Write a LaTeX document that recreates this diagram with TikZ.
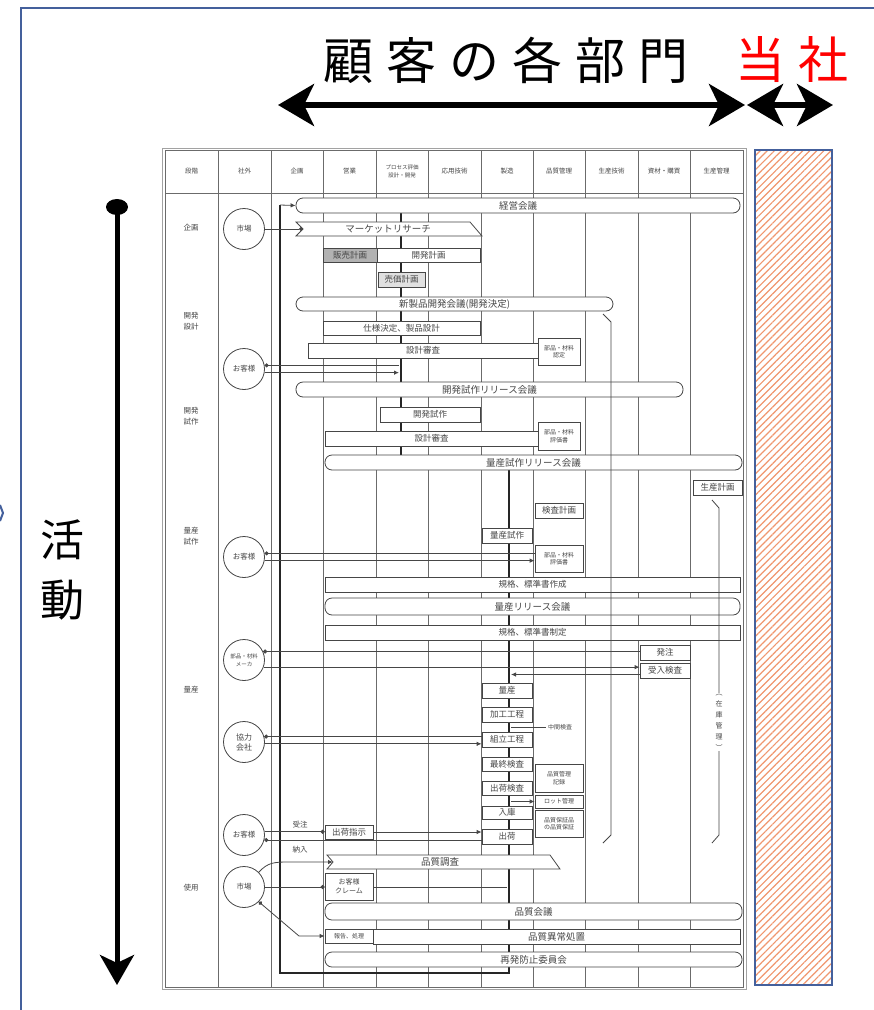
\documentclass[tikz,border=0pt]{standalone}
\usepackage{fontspec}
\newfontfamily\jp{Noto Sans CJK JP}
\usetikzlibrary{arrows.meta,patterns.meta,calc}
\pgfdeclarelayer{back}
\pgfdeclarelayer{bg}
\pgfsetlayers{back,bg,main}
\definecolor{frameblue}{RGB}{68,96,156}
\definecolor{hatchc}{RGB}{240,150,110}
\definecolor{ink}{RGB}{70,70,70}
\newcommand\setfs[2]{\fontsize{#1}{#2}\selectfont}
\newcommand\mybox[7][]{\node[box,#1,minimum width={(#5-#3)*1pt},minimum height={(#6-#4)*1pt}] (#2) at ({(#3+#5)/2},{(#4+#6)/2}) {#7};}
\begin{document}
\begin{tikzpicture}[x=1pt,y=-1pt,
  box/.style={draw=ink, line width=0.8pt, fill=white, inner sep=0pt, align=center, text=ink, font=\jp\setfs{8.5}{9.5}},
  bar/.style={box, rounded corners=7pt, font=\jp\setfs{9.5}{10}},
  sm/.style={font=\jp\setfs{6}{7.5}},
  circ/.style={circle, draw=ink, line width=0.8pt, fill=white, minimum size=41pt, inner sep=0pt, align=center, text=ink, font=\jp\setfs{7.5}{9}},
  hdr/.style={text=ink, align=center, font=\jp\setfs{6.5}{8}},
  rowl/.style={text=ink, align=center, font=\jp\setfs{7.5}{11}},
  lbl/.style={text=ink, inner sep=1pt, font=\jp\setfs{7.5}{9}},
  colline/.style={draw=ink!80, line width=0.7pt},
  conn/.style={draw=ink, line width=0.8pt},
  thk/.style={draw=black!85, line width=2.4pt},
  ar/.style={-{Latex[length=5pt,width=4.5pt]}},
  dotst/.style={{Circle[length=4pt]}-},
  ardot/.style={-{Circle[length=4pt]}},
  dotar/.style={{Circle[length=4pt]}-{Latex[length=5pt,width=4.5pt]}},
  bigar/.style={line width=6pt, {Stealth[length=36pt,width=42pt,inset=10pt]}-{Stealth[length=36pt,width=42pt,inset=10pt]}}
]
\begin{pgfonlayer}{back}
\fill[white] (0,0) rectangle (874,1010);
\end{pgfonlayer}
\useasboundingbox (0,0) rectangle (874,1010);

% outer blue frame
\draw[frameblue, line width=2pt] (21,1012) -- (21,8) -- (876,8);
\draw[frameblue, line width=2pt] (0,505) -- (3,513) -- (0,521);

% title
\node[font=\jp\setfs{50}{50}] (title) at (506,60) {顧\hspace{13pt}客\hspace{13pt}の\hspace{13pt}各\hspace{13pt}部\hspace{13pt}門};
\node[font=\jp\setfs{50}{50}, text=red] (tousha) at (792,60) {当\hspace{13pt}社};
\coordinate (a1L) at (278,105);
\coordinate (a1R) at (745,105);
\coordinate (a2L) at (747,105);
\coordinate (a2R) at (833,105);
\draw[bigar] (a1L) -- (a1R);
\draw[bigar] (a2L) -- (a2R);

% hatched column
\draw[draw=frameblue, line width=1.3pt, pattern={Lines[angle=45,distance=5pt,line width=1.2pt]}, pattern color=hatchc] (755,150) rectangle (832,985);

% left activity arrow
\coordinate (la1) at (117,207);
\coordinate (la2) at (117,985);
\fill (la1) ellipse [x radius=11, y radius=8];
\draw[line width=5pt, -{Stealth[length=30pt,width=34pt,inset=8pt]}] (la1) -- (la2);
\node[font=\jp\setfs{44}{60}, align=center] (katsudo) at (62,570) {活\\動};

% ---------- chart grid ----------
\coordinate (tl) at (280,205);
\coordinate (bl) at (280,973);
\coordinate (br) at (509,973);
\coordinate (mt) at (509,462);
\coordinate (pt) at (401,210);
\coordinate (pb) at (401,458);
\begin{pgfonlayer}{bg}
\draw[colline] (165,150) rectangle (743,987);
\draw[draw=ink!50, line width=0.6pt] (162,148) rectangle (746,989);
\draw[colline] (165,193) -- (743,193);
\foreach \x in {218,271,323,376,428,481,533,585,638,690} \draw[colline] (\x,150) -- (\x,987);
\draw[thk] (tl) -- (bl) -- (br) -- (mt);
\draw[thk] (pt) -- (pb);
\end{pgfonlayer}
\coordinate (p1) at (399,200);
\coordinate (p2L) at (507,500);
\coordinate (p2R) at (511,500);

% header
\foreach \x/\t [count=\i] in {191.5/段階, 244.5/社外, 297/企画, 349.5/営業, 454.5/応用技術, 507/製造, 559/品質管理, 611.5/生産技術, 664/資材・購買, 716.5/生産管理}
  \node[hdr] (h\i) at (\x,171) {\t};
\node[hdr, font=\jp\setfs{5.5}{8}] (h11) at (402,171) {プロセス評価\\設計・開発};

% row labels
\node[rowl] (r1) at (191,228) {企画};
\node[rowl] (r2) at (191,321) {開発\\設計};
\node[rowl] (r3) at (191,416) {開発\\試作};
\node[rowl] (r4) at (191,536) {量産\\試作};
\node[rowl] (r5) at (191,690) {量産};
\node[rowl] (r6) at (191,888) {使用};

% external circles
\node[circ] (m1) at (244,229) {市場};
\node[circ] (o1) at (244,369) {お客様};
\node[circ] (o2) at (244,557) {お客様};
\node[circ, font=\jp\setfs{5.5}{8}] (mk) at (244,660) {部品・材料\\メーカ};
\node[circ, font=\jp\setfs{8}{10}] (kk) at (244,742) {協力\\会社};
\node[circ] (o3) at (244,835) {お客様};
\node[circ] (m2) at (244,887) {市場};

% boxes
\mybox[bar]{k1}{296}{198}{740}{213}{経営会議}
\draw[conn, fill=white] (296,222) -- (470,222) -- (482,236) -- (296,236) -- (303,229) -- cycle;
\coordinate (mrL) at (303,229);
\node[text=ink, font=\jp\setfs{9.5}{10}] (mr) at (388,229) {マーケットリサーチ};
\mybox[fill=black!30]{hanbai}{323}{248}{377}{262}{販売計画}
\mybox{kaihatsu}{377}{248}{480}{262}{開発計画}
\mybox[fill=black!12]{baika}{378}{272}{425}{287}{売価計画}
\mybox[bar]{shin}{296}{297}{613}{311}{新製品開発会議(開発決定)}
\mybox{shiyo}{323}{321}{480}{335}{仕様決定、製品設計}
\mybox{sekkei1}{308}{343}{538}{358}{設計審査}
\mybox[sm]{nintei}{538}{338}{580}{365}{部品・材料\\認定}
\mybox[bar]{kaiR}{296}{382}{683}{397}{開発試作リリース会議}
\mybox{shisaku}{380}{407}{480}{422}{開発試作}
\mybox{sekkei2}{325}{431}{538}{446}{設計審査}
\mybox[sm]{hyouka1}{538}{422}{580}{450}{部品・材料\\評価書}
\mybox[bar]{ryoR}{325}{455}{742}{470}{量産試作リリース会議}
\mybox{seikei}{693}{480}{742}{495}{生産計画}
\mybox{kensakei}{535}{503}{583}{518}{検査計画}
\mybox{ryoshisaku}{482}{528}{532}{543}{量産試作}
\mybox[sm]{hyouka2}{535}{545}{583}{572}{部品・材料\\評価書}
\mybox{kikaku1}{325}{577}{740}{592}{規格、標準書作成}
\mybox[bar]{ryoRR}{325}{598}{740}{615}{量産リリース会議}
\mybox{kikaku2}{325}{625}{740}{640}{規格、標準書制定}
\mybox{hatchu}{640}{645}{690}{660}{発注}
\mybox{ukeire}{640}{663}{690}{678}{受入検査}
\mybox{ryosan}{482}{683}{532}{698}{量産}
\mybox{kako}{482}{707}{532}{722}{加工工程}
\mybox{kumi}{482}{732}{532}{747}{組立工程}
\mybox{saishu}{482}{757}{532}{771}{最終検査}
\mybox{shukkak}{482}{781}{532}{795}{出荷検査}
\mybox[sm]{qrec}{535}{764}{583}{792}{品質管理\\記録}
\mybox[sm]{lot}{535}{795}{583}{808}{ロット管理}
\mybox{nyuko}{482}{806}{532}{819}{入庫}
\mybox[sm]{qho}{535}{810}{583}{837}{品質保証品\\の品質保証}
\mybox{shukka}{482}{829}{532}{844}{出荷}
\mybox{shiji}{325}{825}{373}{839}{出荷指示}
\draw[conn, fill=white] (327,855) -- (550,855) -- (560,869) -- (327,869) -- (333,862) -- cycle;
\coordinate (chosaL) at (333,862);
\node[text=ink, font=\jp\setfs{9.5}{10}] (chosa) at (440,862) {品質調査};
\mybox[font=\jp\setfs{7}{9}]{claim}{325}{873}{373}{900}{お客様\\クレーム}
\mybox[bar]{qkai}{325}{903}{742}{920}{品質会議}
\mybox[font=\jp\setfs{6}{7}]{hokoku}{325}{929}{373}{943}{報告、処理}
\mybox[font=\jp\setfs{9.5}{10}]{ijo}{373}{929}{740}{944}{品質異常処置}
\mybox[bar]{saihatsu}{325}{952}{742}{967}{再発防止委員会}

% brackets
\draw[conn] (603,314) -- (611,322) -- (611,835) -- (603,843);
\draw[conn] (712,500) -- (719,508) -- (719,835) -- (712,843);
\node[fill=white, inner sep=1pt, text=ink, align=center, font=\jp\setfs{7}{11}] (zaiko) at (719,722) {︵\\在\\庫\\管\\理\\︶};

% connectors
\draw[conn,ar] (tl) -- (k1.west);
\draw[conn,ardot] (m1.east) -- (m1.east -| mrL);
\draw[conn,dotst] (o1.10) -- (o1.10 -| p1);
\draw[conn,ar] (o1.-10) -- (o1.-10 -| p1);
\draw[conn,dotst] (o2.10) -- (o2.10 -| hyouka2.west);
\draw[conn,ar] (o2.-10) -- (o2.-10 -| hyouka2.west);
\draw[conn,dotst] (mk.24) -- (mk.24 -| hatchu.west);
\draw[conn,ar] (mk.-20) -- (mk.-20 -| ukeire.west);
\path (ukeire.west) ++(0,4) coordinate (u4);
\draw[conn,ar] (u4) -- (u4 -| p2R);
\draw[conn,dotst] (kk.15) -- (kk.15 -| kumi.west);
\draw[conn,ar] (kk.-5) -- (kk.-5 -| kumi.west);
\node[text=ink, inner sep=0pt, font=\jp\setfs{6}{7}] (chukan) at (560,727) {中間検査};
\draw[conn] (chukan.west -| p2R) -- ([xshift=-2pt]chukan.west);
\draw[conn,ar] (lot.west -| p2R) -- (lot.west);
\draw[conn,ardot] (o3.9) -- (o3.9 -| shiji.west);
\draw[conn,ar] (shiji.east) -- (shiji.east -| shukka.west);
\draw[conn,dotst] (o3.-14) -- (o3.-14 -| shukka.west);
\node[lbl] (juchu) at (300,825) {受注};
\node[lbl] (nonyu) at (300,850) {納入};
\draw[conn,ar] (m2.45) .. controls (268,862) and (275,862) .. (290,862) -- (chosaL);
\draw[conn,ardot] (m2.east) -- (m2.east -| claim.west);
\draw[conn] (claim.east |- m2.east) -- (m2.east -| p2L);
\draw[conn,dotar] (m2.-45) -- (299,936) -- (hokoku.west);
\end{tikzpicture}
\end{document}
